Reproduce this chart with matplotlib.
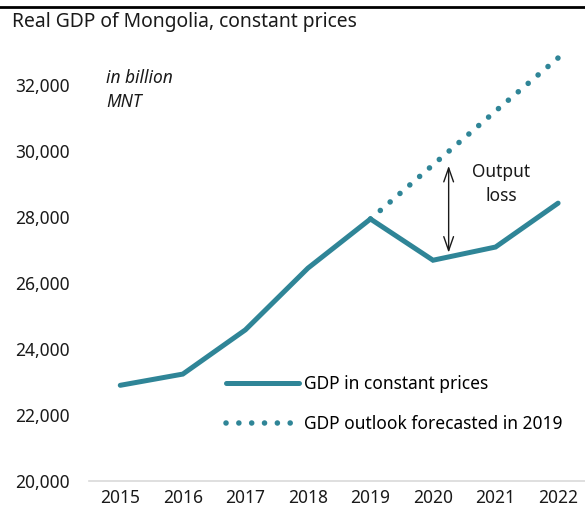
import matplotlib.pyplot as plt
from matplotlib.lines import Line2D

plt.rcParams['font.family'] = ['Noto Sans', 'DejaVu Sans']

years = [2015, 2016, 2017, 2018, 2019, 2020, 2021, 2022]
gdp = [22900, 23240, 24580, 26450, 27940, 26690, 27090, 28420]
fc_years = [2019, 2020, 2021, 2022]
forecast = [27940, 29580, 31210, 32820]

teal = '#2F8597'
dots = (0, (0.01, 2.33))

fig = plt.figure(figsize=(5.85, 5.17), dpi=100)
ax = fig.add_axes([89 / 585, 1 - 481 / 517, 1 - 89 / 585, (481 - 52) / 517])

ax.plot(years, gdp, color=teal, linewidth=3.6, solid_capstyle='round',
        solid_joinstyle='miter', zorder=3)
ax.plot(fc_years, forecast, color=teal, linewidth=4.0, linestyle=dots,
        dash_capstyle='round', zorder=2, clip_on=False)

ax.set_xlim(2014.5, 2022.43)
ax.set_ylim(20000, 33000)
ax.set_xticks(years)
ax.set_yticks(range(20000, 33000, 2000))
ax.set_yticklabels([f'{v:,}' for v in range(20000, 33000, 2000)])
ax.tick_params(length=0, labelsize=12.5, colors='#1a1a1a', pad=6)
ax.tick_params(axis='y', pad=14)
for s in ['top', 'right', 'left']:
    ax.spines[s].set_visible(False)
ax.spines['bottom'].set_color('#d9d9d9')
ax.spines['bottom'].set_linewidth(1.2)

# output loss arrow
ax.annotate('', xy=(2020.25, 29550), xytext=(2020.25, 26920),
            arrowprops=dict(arrowstyle='<->,head_length=1.0,head_width=0.35',
                            color='#1a1a1a', lw=1.0, shrinkA=0, shrinkB=0))
ax.text(2021.09, 29010, 'Output\nloss', ha='center', va='center', fontsize=12.5,
        linespacing=1.45, color='#1a1a1a')

ax.text(2014.77, 31850, 'in billion\nMNT', fontsize=12.5, style='italic',
        va='center', ha='left', linespacing=1.4, color='#1a1a1a')

handles = [Line2D([], [], color=teal, linewidth=3.6, solid_capstyle='round'),
           Line2D([], [], color=teal, linewidth=4.0, linestyle=(0, (0.01, 2.3)),
                  dash_capstyle='round')]
ax.legend(handles, ['GDP in constant prices', 'GDP outlook forecasted in 2019'],
          frameon=False, fontsize=12.5, handlelength=4.2, handletextpad=0.3,
          labelspacing=1.25, loc='upper left',
          bbox_to_anchor=(226 / 585, 1 - 375 / 517), bbox_transform=fig.transFigure,
          borderaxespad=0, borderpad=0)

fig.text(12 / 585, 1 - 22 / 517, 'Real GDP of Mongolia, constant prices',
         fontsize=13.9, va='center', ha='left', color='#1a1a1a')
fig.add_artist(Line2D([0, 1], [1 - 7 / 517, 1 - 7 / 517], color='black',
                      linewidth=2, transform=fig.transFigure))

fig.savefig('out.png', dpi=100)
